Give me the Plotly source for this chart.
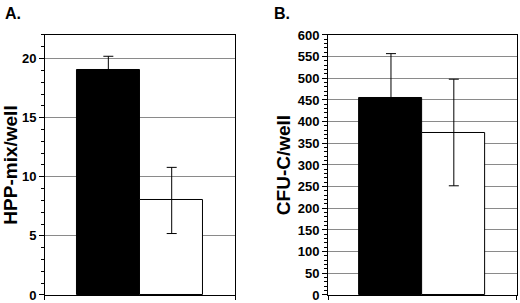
import plotly.graph_objects as go

# Data
groups = ["black", "white"]
hpp_values = [19.0, 8.0]
hpp_errors = [1.2, 2.8]
cfu_values = [455, 375]
cfu_errors = [102, 123]
bar_colors = ["black", "white"]
hpp_tick_step = 5
hpp_minor_step = 1
cfu_tick_step = 50
cfu_minor_step = 10

xpos = [0, 1]
FONT = "Liberation Sans, Arial, sans-serif"

fig = go.Figure()
fig.add_trace(go.Bar(
    x=xpos, y=hpp_values, width=1, marker=dict(color=bar_colors, line=dict(color="black", width=1)),
    error_y=dict(type="data", array=hpp_errors, color="black", thickness=1, width=5),
    xaxis="x", yaxis="y", showlegend=False))
fig.add_trace(go.Bar(
    x=xpos, y=cfu_values, width=1, marker=dict(color=bar_colors, line=dict(color="black", width=1)),
    error_y=dict(type="data", array=cfu_errors, color="black", thickness=1, width=5),
    xaxis="x2", yaxis="y2", showlegend=False))

axis_common = dict(showline=True, linecolor="black", linewidth=1, mirror=True, zeroline=False, automargin=False)
tickfont = dict(family=FONT, size=13, color="black", weight="bold")
titlefont = dict(family=FONT, size=19, color="black", weight="bold")

fig.update_layout(
    width=520, height=303, margin=dict(l=0, r=0, t=0, b=0, autoexpand=False),
    paper_bgcolor="white", plot_bgcolor="white", bargap=0,
    xaxis=dict(domain=[0.0865, 0.452], range=[-1, 2], tickvals=[-1, 2], ticktext=["", ""],
               ticks="outside", ticklen=4, tickcolor="black", showgrid=False, anchor="y", **axis_common),
    yaxis=dict(domain=[0.0264, 0.8845], range=[0, 22], tickmode="linear", tick0=0, dtick=hpp_tick_step,
               ticks="outside", ticklen=5,
               tickcolor="black", tickfont=tickfont, showgrid=True, gridcolor="#8a8a8a", gridwidth=1,
               minor=dict(dtick=hpp_minor_step, ticklen=3, ticks="outside", tickcolor="black", showgrid=False),
               title=dict(text="HPP-mix/well", font=titlefont, standoff=2),
               anchor="x", **axis_common),
    xaxis2=dict(domain=[0.631, 0.9936], range=[-1, 2], tickvals=[-1, 2], ticktext=["", ""],
                ticks="outside", ticklen=4, tickcolor="black", showgrid=False, anchor="y2", **axis_common),
    yaxis2=dict(domain=[0.0264, 0.8845], range=[0, 600], tickmode="linear", tick0=0, dtick=cfu_tick_step,
                ticks="outside", ticklen=5,
                tickcolor="black", tickfont=tickfont, showgrid=True, gridcolor="#8a8a8a", gridwidth=1,
                minor=dict(dtick=cfu_minor_step, ticklen=3, ticks="outside", tickcolor="black", showgrid=False),
                title=dict(text="CFU-C/well", font=titlefont, standoff=2),
                anchor="x2", **axis_common),
    annotations=[
        dict(text="<b>A.</b>", x=3 / 520, y=1 - 3 / 303, xref="paper", yref="paper", xanchor="left", yanchor="top",
             showarrow=False, font=dict(family=FONT, size=16, color="black")),
        dict(text="<b>B.</b>", x=272 / 520, y=1 - 3 / 303, xref="paper", yref="paper", xanchor="left", yanchor="top",
             showarrow=False, font=dict(family=FONT, size=16, color="black")),
    ],
)

fig.write_html("out.html", config={"displayModeBar": False},
               post_script="document.body.style.margin='0';document.body.style.overflow='hidden';")
